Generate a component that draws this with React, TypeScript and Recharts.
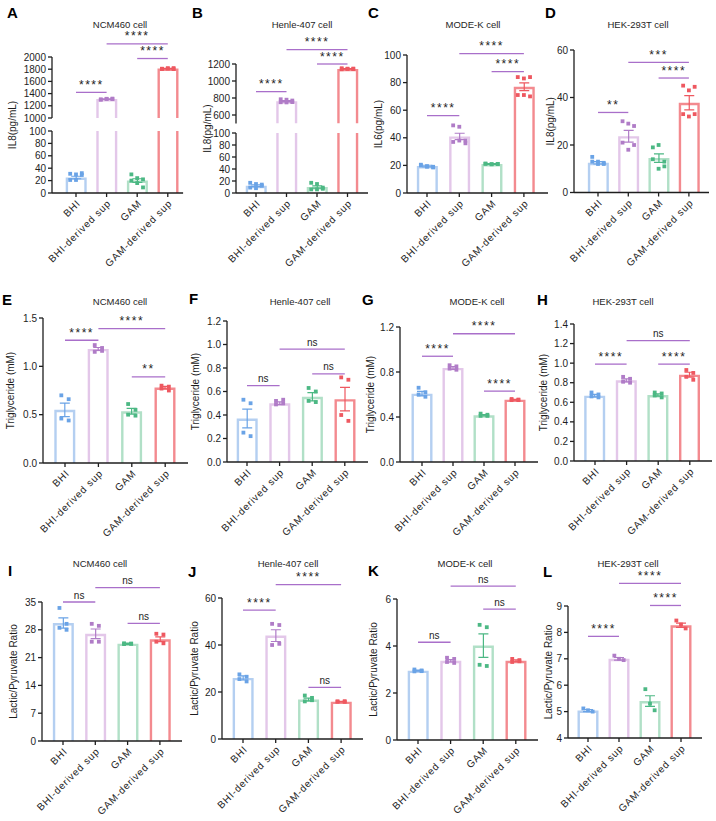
import React from 'react';
import { ComposedChart, Bar, Scatter, XAxis, YAxis, ReferenceLine } from 'recharts';

const GROUPS = ['BHI', 'BHI-derived sup', 'GAM', 'GAM-derived sup'];

const OUTLINE = ['#b4cff1', '#e3c7e9', '#b1e0c7', '#f38a8f'];
const DOTS = ['#6aa3e6', '#b07cc7', '#4cb884', '#ee5860'];
const SIG = '#a96fca';
const INK = '#1e1e1e';
const FONT = '"Liberation Sans", Arial, Helvetica, sans-serif';

type Sig = [number, number, number, string];

// A - IL8, NCM460
const A_MEAN = [25, 1310, 20, 1810];
const A_SEM = [2, 5, 3, 4];
const A_PTS = [[31, 30, 32, 21, 21, 29], [1305, 1312, 1318, 1300, 1315, 1310], [30, 24, 22, 20, 16, 9], [1805, 1812, 1818, 1808, 1815, 1802]];
const A_SIG: Sig[] = [[0, 1, 1420, '****'], [2, 3, 1975, '****'], [1, 3, 2215, '****']];
const A_TICKS_HI = [1000, 1200, 1400, 1600, 1800, 2000];
const A_TICKS_LO = [0, 20, 40, 60, 80, 100];

// B - IL8, Henle-407
const B_MEAN = [12, 762, 10, 1142];
const B_SEM = [1.5, 8, 2, 3];
const B_PTS = [[17, 15, 12, 9, 8, 14], [785, 780, 770, 750, 748, 752], [17, 15, 9, 6, 6, 7], [1150, 1145, 1140, 1138, 1142, 1146]];
const B_SIG: Sig[] = [[0, 1, 875, '****'], [2, 3, 1200, '****'], [1, 3, 1370, '****']];
const B_TICKS_HI = [600, 800, 1000, 1200];
const B_TICKS_LO = [0, 20, 40, 60, 80, 100];

// C - IL6, MODE-K
const C_MEAN = [19.5, 41, 21, 77];
const C_SEM = [0.6, 2.3, 0.3, 2.8];
const C_PTS = [[20.5, 19, 18.5, 20, 19.5, 19], [49, 48, 38, 37, 38, 36], [21.2, 20.8, 21, 21.3, 20.9, 21.1], [84, 83, 84, 71, 71, 70]];
const C_SIG: Sig[] = [[0, 1, 56, '****'], [2, 3, 88, '****'], [1, 3, 101, '****']];
const C_TICKS = [0, 20, 40, 60, 80, 100];

// D - IL8, HEK-293T
const D_MEAN = [12.5, 23.7, 14.5, 37.8];
const D_SEM = [0.5, 2.5, 1.8, 3];
const D_PTS = [[15, 13, 12.5, 13, 12, 12], [30, 29, 28, 21, 18, 20], [19, 20, 13, 14, 10, 11], [45, 43, 44.5, 33, 32, 33]];
const D_SIG: Sig[] = [[0, 1, 33.7, '**'], [2, 3, 48.2, '****'], [1, 3, 54.8, '***']];
const D_TICKS = [0, 20, 40, 60];

// E - Triglyceride, NCM460
const E_MEAN = [0.55, 1.18, 0.535, 0.78];
const E_SEM = [0.07, 0.015, 0.03, 0.012];
const E_PTS = [[0.7, 0.66, 0.46, 0.44], [1.22, 1.19, 1.15, 1.16], [0.61, 0.55, 0.5, 0.49], [0.8, 0.79, 0.77, 0.75]];
const E_SIG: Sig[] = [[0, 1, 1.27, '****'], [2, 3, 0.89, '**'], [1, 3, 1.39, '****']];
const E_TICKS = [0, 0.5, 1, 1.5];

// F - Triglyceride, Henle-407
const F_MEAN = [0.37, 0.5, 0.555, 0.535];
const F_SEM = [0.08, 0.012, 0.035, 0.1];
const F_PTS = [[0.53, 0.5, 0.25, 0.22], [0.52, 0.5, 0.49, 0.53], [0.63, 0.6, 0.52, 0.51], [0.72, 0.7, 0.4, 0.35]];
const F_SIG: Sig[] = [[0, 1, 0.65, 'ns'], [2, 3, 0.75, 'ns'], [1, 3, 0.96, 'ns']];
const F_TICKS = [0, 0.2, 0.4, 0.6, 0.8, 1, 1.2];

// G - Triglyceride, MODE-K
const G_MEAN = [0.607, 0.836, 0.415, 0.554];
const G_SEM = [0.02, 0.012, 0.006, 0.004];
const G_PTS = [[0.66, 0.62, 0.6, 0.58], [0.86, 0.85, 0.83, 0.82], [0.43, 0.42, 0.41, 0.41], [0.56, 0.555, 0.55, 0.55]];
const G_SIG: Sig[] = [[0, 1, 0.94, '****'], [2, 3, 0.63, '****'], [1, 3, 1.14, '****']];
const G_TICKS = [0, 0.4, 0.8, 1.2];

// H - Triglyceride, HEK-293T
const H_MEAN = [0.668, 0.824, 0.674, 0.882];
const H_SEM = [0.012, 0.015, 0.012, 0.025];
const H_PTS = [[0.7, 0.68, 0.66, 0.65], [0.86, 0.84, 0.81, 0.8], [0.7, 0.69, 0.67, 0.65], [0.93, 0.9, 0.86, 0.83]];
const H_SIG: Sig[] = [[0, 1, 0.99, '****'], [2, 3, 0.99, '****'], [1, 3, 1.23, 'ns']];
const H_TICKS = [0, 0.2, 0.4, 0.6, 0.8, 1, 1.2, 1.4];

// I - Lactic/Pyruvate, NCM460
const I_MEAN = [29.7, 27, 24.5, 25.6];
const I_SEM = [1.3, 1.2, 0.15, 0.6];
const I_PTS = [[33.5, 29.5, 28.5, 28], [29.5, 29, 25, 25], [24.6, 24.5, 24.4, 24.5], [27, 26.8, 25, 24.6]];
const I_SIG: Sig[] = [[0, 1, 35, 'ns'], [2, 3, 29.6, 'ns'], [1, 3, 38.6, 'ns']];
const I_TICKS = [0, 7, 14, 21, 28, 35];

// J - Lactic/Pyruvate, Henle-407
const J_MEAN = [26, 44, 16.8, 15.9];
const J_SEM = [0.9, 2.5, 0.6, 0.15];
const J_PTS = [[27.5, 26.5, 25.5, 24.5], [49, 48.5, 40, 40.5], [18.5, 17.5, 16, 16.5], [16, 15.8, 15.9, 16.1]];
const J_SIG: Sig[] = [[0, 1, 54.8, '****'], [2, 3, 22, 'ns'], [1, 3, 65.7, '****']];
const J_TICKS = [0, 20, 40, 60];

// K - Lactic/Pyruvate, MODE-K
const K_MEAN = [2.95, 3.37, 4.02, 3.37];
const K_SEM = [0.02, 0.05, 0.5, 0.04];
const K_PTS = [[3.0, 2.96, 2.92, 2.93], [3.5, 3.45, 3.32, 3.28], [4.9, 4.8, 3.2, 3.15], [3.45, 3.4, 3.32, 3.35]];
const K_SIG: Sig[] = [[0, 1, 4.16, 'ns'], [2, 3, 5.57, 'ns'], [1, 3, 6.55, 'ns']];
const K_TICKS = [0, 2, 4, 6];

// L - Lactic/Pyruvate, HEK-293T
const L_MEAN = [5.04, 7.0, 5.4, 8.27];
const L_SEM = [0.04, 0.05, 0.2, 0.08];
const L_PTS = [[5.12, 5.05, 5.0], [7.12, 7.0, 6.95], [5.85, 5.3, 5.05], [8.45, 8.3, 8.15]];
const L_SIG: Sig[] = [[0, 1, 7.85, '****'], [2, 3, 9.02, '****'], [1, 3, 9.86, '****']];
const L_TICKS = [4, 5, 6, 7, 8, 9];

type Seg = { domain: [number, number]; ticks: number[] };
type PanelCfg = {
  letter: string; title: string; yLabel: string; dec: number;
  mean: number[]; sem: number[]; pts: number[][]; sig: Sig[]; segs: Seg[];
};

const IL8 = 'IL8(pg/mL)';
const TG = 'Triglyceride (mM)';
const LP = 'Lactic/Pyruvate Ratio';

const PANELS: PanelCfg[] = [
  { letter: 'A', title: 'NCM460 cell', yLabel: IL8, dec: 0, mean: A_MEAN, sem: A_SEM, pts: A_PTS, sig: A_SIG,
    segs: [{ domain: [1000, 2000], ticks: A_TICKS_HI }, { domain: [0, 100], ticks: A_TICKS_LO }] },
  { letter: 'B', title: 'Henle-407 cell', yLabel: IL8, dec: 0, mean: B_MEAN, sem: B_SEM, pts: B_PTS, sig: B_SIG,
    segs: [{ domain: [500, 1200], ticks: B_TICKS_HI }, { domain: [0, 100], ticks: B_TICKS_LO }] },
  { letter: 'C', title: 'MODE-K cell', yLabel: 'IL6(pg/mL)', dec: 0, mean: C_MEAN, sem: C_SEM, pts: C_PTS, sig: C_SIG,
    segs: [{ domain: [0, 100], ticks: C_TICKS }] },
  { letter: 'D', title: 'HEK-293T cell', yLabel: IL8, dec: 0, mean: D_MEAN, sem: D_SEM, pts: D_PTS, sig: D_SIG,
    segs: [{ domain: [0, 60], ticks: D_TICKS }] },
  { letter: 'E', title: 'NCM460 cell', yLabel: TG, dec: 1, mean: E_MEAN, sem: E_SEM, pts: E_PTS, sig: E_SIG,
    segs: [{ domain: [0, 1.5], ticks: E_TICKS }] },
  { letter: 'F', title: 'Henle-407 cell', yLabel: TG, dec: 1, mean: F_MEAN, sem: F_SEM, pts: F_PTS, sig: F_SIG,
    segs: [{ domain: [0, 1.2], ticks: F_TICKS }] },
  { letter: 'G', title: 'MODE-K cell', yLabel: TG, dec: 1, mean: G_MEAN, sem: G_SEM, pts: G_PTS, sig: G_SIG,
    segs: [{ domain: [0, 1.2], ticks: G_TICKS }] },
  { letter: 'H', title: 'HEK-293T cell', yLabel: TG, dec: 1, mean: H_MEAN, sem: H_SEM, pts: H_PTS, sig: H_SIG,
    segs: [{ domain: [0, 1.4], ticks: H_TICKS }] },
  { letter: 'I', title: 'NCM460 cell', yLabel: LP, dec: 0, mean: I_MEAN, sem: I_SEM, pts: I_PTS, sig: I_SIG,
    segs: [{ domain: [0, 35], ticks: I_TICKS }] },
  { letter: 'J', title: 'Henle-407 cell', yLabel: LP, dec: 0, mean: J_MEAN, sem: J_SEM, pts: J_PTS, sig: J_SIG,
    segs: [{ domain: [0, 60], ticks: J_TICKS }] },
  { letter: 'K', title: 'MODE-K cell', yLabel: LP, dec: 0, mean: K_MEAN, sem: K_SEM, pts: K_PTS, sig: K_SIG,
    segs: [{ domain: [0, 6], ticks: K_TICKS }] },
  { letter: 'L', title: 'HEK-293T cell', yLabel: LP, dec: 0, mean: L_MEAN, sem: L_SEM, pts: L_PTS, sig: L_SIG,
    segs: [{ domain: [4, 9], ticks: L_TICKS }] },
];

// page layout: y-axis x, first bar centre, band width, x-axis end, segment pixel rows,
// y-label offset, panel letter pos, title centre
type Lay = { axisX: number; c0: number; band: number; end: number; rows: number[][]; yl: number; letter: number[]; title: number[] };
const LAYOUT: Lay[] = [
  { axisX: 52, c0: 76, band: 30.6, end: 179, rows: [[57, 118], [131, 193]], yl: 39, letter: [7, 13], title: [120, 25] },
  { axisX: 236, c0: 256, band: 30.5, end: 368, rows: [[64, 123.5], [133, 193]], yl: 29, letter: [192, 13], title: [302, 25] },
  { axisX: 407, c0: 427, band: 32.3, end: 548, rows: [[55, 193]], yl: 29, letter: [368, 13], title: [473, 25] },
  { axisX: 574, c0: 598, band: 30.3, end: 709, rows: [[49.5, 192]], yl: 24, letter: [545, 13], title: [638, 25] },
  { axisX: 43, c0: 65, band: 33.4, end: 188, rows: [[318, 463]], yl: 33, letter: [2, 300], title: [120, 302] },
  { axisX: 227, c0: 247, band: 32.6, end: 368, rows: [[321, 462]], yl: 32, letter: [189, 299], title: [300, 302] },
  { axisX: 400, c0: 422, band: 31, end: 538, rows: [[327, 462]], yl: 30, letter: [362, 300], title: [477, 302] },
  { axisX: 574, c0: 595, band: 31.6, end: 712, rows: [[324, 461]], yl: 31, letter: [537, 300], title: [623, 302] },
  { axisX: 42, c0: 63, band: 32.3, end: 182, rows: [[602, 741]], yl: 29, letter: [8, 571], title: [100, 564] },
  { axisX: 222, c0: 243, band: 32.7, end: 363, rows: [[598, 739]], yl: 28, letter: [188, 572], title: [288, 564] },
  { axisX: 397, c0: 418, band: 32.6, end: 538, rows: [[599, 740]], yl: 24, letter: [368, 571], title: [465, 564] },
  { axisX: 568, c0: 588, band: 31, end: 702, rows: [[606, 738]], yl: 20, letter: [543, 572], title: [628, 564] },
];

const XH = 88;
const YW = 52;
const MR = 6;
const MT = 52;
const BAR = 21;
const SW = 2.4;

function jitter(k: number, n: number) {
  if (n >= 6) return ((k % 3) - 1) * 0.19;
  if (n === 3) return (k - 1) * 0.15;
  return (k % 2 === 0 ? -1 : 1) * 0.11;
}

function makeBarShape(domain: [number, number]) {
  const [d0, d1] = domain;
  return function BarShape(p: any) {
    const row = p.payload;
    if (!row || row.mean == null || row.mean < d0) return <g />;
    const bg = p.background;
    let plotTop: number, plotBottom: number, ppu: number;
    if (bg && bg.height) {
      plotTop = bg.y;
      plotBottom = bg.y + bg.height;
      ppu = bg.height / (d1 - d0);
    } else {
      plotBottom = p.y + p.height;
      ppu = p.height / (row.mean - d0);
      plotTop = plotBottom - (d1 - d0) * ppu;
    }
    const yOf = (v: number) => plotBottom - (v - d0) * ppu;
    const open = row.mean > d1;
    const top = open ? plotTop : yOf(row.mean);
    const l = p.x + SW / 2;
    const r = p.x + p.width - SW / 2;
    const d = open
      ? `M${l},${plotBottom}V${top}M${r},${top}V${plotBottom}`
      : `M${l},${plotBottom}V${top + SW / 2}H${r}V${plotBottom}`;
    let err = null;
    if (!open) {
      const cx = p.x + p.width / 2;
      const hi = yOf(row.mean + row.sem);
      const lo = yOf(row.mean - row.sem);
      err = (
        <path
          d={`M${cx},${lo}V${hi}M${cx - 5},${hi}H${cx + 5}M${cx - 5},${lo}H${cx + 5}`}
          stroke={DOTS[row.g]}
          strokeWidth={1.2}
          fill="none"
        />
      );
    }
    return (
      <g>
        <path d={d} fill="none" stroke={OUTLINE[row.g]} strokeWidth={SW} />
        {err}
      </g>
    );
  };
}

const DotShape = (p: any) => {
  if (p.cx == null || p.cy == null) return <g />;
  const g = p.payload?.g ?? 0;
  return <rect x={p.cx - 1.9} y={p.cy - 1.9} width={3.8} height={3.8} fill={DOTS[g]} />;
};

const XTick = (p: any) => {
  const ax = p.x + 5;
  const ay = p.y + 5;
  return (
    <text
      x={ax}
      y={ay}
      transform={`rotate(-45 ${ax} ${ay})`}
      textAnchor="end"
      fontSize={10}
      fill={INK}
      fontFamily={FONT}
      style={{ letterSpacing: '0.8px' }}
    >
      {p.payload.value}
    </text>
  );
};

function sigLabel(lp: any, txt: string) {
  const vb = lp.viewBox || {};
  const x = vb.x1 != null ? (vb.x1 + vb.x2) / 2 : vb.x + (vb.width || 0) / 2;
  const y = vb.y1 != null ? vb.y1 : vb.y;
  const stars = txt !== 'ns';
  return (
    <text
      x={x}
      y={y - 3.5}
      textAnchor="middle"
      fontSize={stars ? 12 : 10}
      fill={INK}
      fontFamily={FONT}
      style={{ letterSpacing: stars ? '1.5px' : '0px' }}
    >
      {txt}
    </text>
  );
}

function Panel({ cfg, lay }: { cfg: PanelCfg; lay: Lay }) {
  const { axisX, c0, band, end, rows } = lay;
  const padL = c0 - band / 2 - axisX;
  let plotW = end - axisX;
  let padR = plotW - padL - 4 * band;
  if (padR < 0) {
    plotW -= padR;
    padR = 0;
  }
  const chartTop = rows[0][0] - MT;
  const data = GROUPS.map((name, g) => ({ name, g, mean: cfg.mean[g], sem: cfg.sem[g] }));
  const labelY = (rows[0][0] + rows[rows.length - 1][1]) / 2 - chartTop;

  return (
    <>
      <div style={{ position: 'absolute', left: lay.letter[0], top: lay.letter[1] - 9, fontSize: 15, fontWeight: 700, lineHeight: '18px', color: '#000' }}>
        {cfg.letter}
      </div>
      <div style={{ position: 'absolute', left: lay.title[0], top: lay.title[1] - 6, transform: 'translateX(-50%)', fontSize: 9.5, lineHeight: '12px', whiteSpace: 'nowrap', color: INK }}>
        {cfg.title}
      </div>
      {cfg.segs.map((seg, si) => {
        const last = si === cfg.segs.length - 1;
        const first = si === 0;
        const [segTop, segBottom] = rows[si];
        const mt = segTop - chartTop;
        const segH = segBottom - segTop;
        const mb = last ? 0 : 8;
        const h = mt + segH + (last ? XH : mb);
        const [d0, d1] = seg.domain;
        const pts = cfg.pts
          .flatMap((arr, g) => arr.map((v, k) => ({ x: g + jitter(k, arr.length), y: v, g })))
          .filter((q) => q.y >= d0 && q.y <= d1);
        return (
          <div key={si} style={{ position: 'absolute', left: axisX - YW, top: chartTop }}>
            <ComposedChart
              width={YW + plotW + MR}
              height={h}
              data={data}
              margin={{ top: mt, right: MR, bottom: mb, left: 0 }}
            >
              <XAxis
                xAxisId="cat"
                dataKey="name"
                hide={!last}
                height={XH}
                interval={0}
                padding={{ left: padL, right: padR }}
                axisLine={{ stroke: INK, strokeWidth: 1.3 }}
                tickLine={{ stroke: INK, strokeWidth: 1.3 }}
                tickSize={4}
                tickMargin={2}
                tick={<XTick />}
              />
              <XAxis
                xAxisId="num"
                type="number"
                dataKey="x"
                domain={[-0.5, 3.5]}
                allowDataOverflow
                hide
                padding={{ left: padL, right: padR }}
              />
              <YAxis
                domain={seg.domain}
                ticks={seg.ticks}
                allowDataOverflow
                interval={0}
                width={YW}
                tickSize={4}
                tickMargin={2}
                tickFormatter={(v: number) => v.toFixed(cfg.dec)}
                tick={{ fontSize: 10, fill: INK, fontFamily: FONT }}
                axisLine={{ stroke: INK, strokeWidth: 1.3 }}
                tickLine={{ stroke: INK, strokeWidth: 1.3 }}
                label={
                  last
                    ? () => (
                        <text
                          x={YW - lay.yl}
                          y={labelY}
                          transform={`rotate(-90 ${YW - lay.yl} ${labelY})`}
                          textAnchor="middle"
                          dominantBaseline="central"
                          fontSize={10}
                          fill={INK}
                          fontFamily={FONT}
                        >
                          {cfg.yLabel}
                        </text>
                      )
                    : undefined
                }
              />
              <Bar xAxisId="cat" dataKey="mean" barSize={BAR} shape={makeBarShape(seg.domain)} isAnimationActive={false} />
              <Scatter xAxisId="num" data={pts} dataKey="y" shape={DotShape} isAnimationActive={false} />
              {first &&
                cfg.sig.map(([a, b, yv, txt], i) => (
                  <ReferenceLine
                    key={i}
                    xAxisId="num"
                    segment={[{ x: a, y: yv }, { x: b, y: yv }]}
                    stroke={SIG}
                    strokeWidth={1.3}
                    ifOverflow="visible"
                    label={(lp: any) => sigLabel(lp, txt)}
                  />
                ))}
            </ComposedChart>
          </div>
        );
      })}
    </>
  );
}

export default function App() {
  return (
    <div style={{ position: 'absolute', left: 0, top: 0, width: 716, height: 821, background: '#fff', overflow: 'hidden', fontFamily: FONT }}>
      {PANELS.map((cfg, i) => (
        <Panel key={i} cfg={cfg} lay={LAYOUT[i]} />
      ))}
    </div>
  );
}
